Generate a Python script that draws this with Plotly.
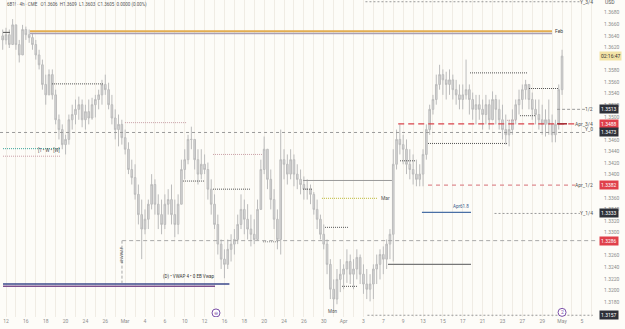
import plotly.graph_objects as go

# ---------------- data ----------------
tick_labels = ["12", "16", "18", "20", "24", "26", "Mar", "4", "6", "10", "12", "16", "18", "20",
               "24", "26", "30", "Apr", "3", "7", "9", "13", "15", "17", "21", "23", "27", "29", "May", "5"]

highs = [1.3651, 1.3654, 1.3651, 1.3669, 1.3659, 1.3633, 1.3659, 1.3656, 1.3651, 1.3645,
         1.3633, 1.3616, 1.3599, 1.3573, 1.3582, 1.3582, 1.3547, 1.3504, 1.3487, 1.3469,
         1.3504, 1.3521, 1.3530, 1.3535, 1.3530, 1.3521, 1.3530, 1.3533, 1.3538, 1.3547,
         1.3564, 1.3573, 1.3559, 1.3538, 1.3513, 1.3504, 1.3495, 1.3478, 1.3456, 1.3426,
         1.3418, 1.3383, 1.3357, 1.3340, 1.3357, 1.3401, 1.3392, 1.3366, 1.3357, 1.3366,
         1.3375, 1.3383, 1.3357, 1.3366, 1.3426, 1.3444, 1.3469, 1.3483, 1.3461, 1.3444,
         1.3444, 1.3435, 1.3421, 1.3392, 1.3366, 1.3331, 1.3288, 1.3271, 1.3288, 1.3297,
         1.3306, 1.3331, 1.3366, 1.3357, 1.3349, 1.3331, 1.3323, 1.3357, 1.3426, 1.3466,
         1.3444, 1.3409, 1.3375, 1.3340, 1.3478, 1.3444, 1.3435, 1.3444, 1.3435, 1.3418,
         1.3409, 1.3397, 1.3392, 1.3383, 1.3370, 1.3357, 1.3331, 1.3314, 1.3288, 1.3254,
         1.3219, 1.3237, 1.3254, 1.3245, 1.3271, 1.3262, 1.3254, 1.3271, 1.3262, 1.3245,
         1.3237, 1.3228, 1.3245, 1.3262, 1.3271, 1.3276, 1.3288, 1.3306, 1.3444, 1.3478,
         1.3487, 1.3469, 1.3461, 1.3444, 1.3435, 1.3426, 1.3418, 1.3444, 1.3487, 1.3521,
         1.3538, 1.3573, 1.3590, 1.3582, 1.3578, 1.3582, 1.3573, 1.3564, 1.3556, 1.3556,
         1.3599, 1.3556, 1.3542, 1.3538, 1.3538, 1.3530, 1.3538, 1.3530, 1.3544, 1.3538,
         1.3530, 1.3521, 1.3504, 1.3495, 1.3513, 1.3530, 1.3547, 1.3556, 1.3564, 1.3556,
         1.3542, 1.3530, 1.3530, 1.3521, 1.3513, 1.3530, 1.3504, 1.3495, 1.3556, 1.3616]

lows = [1.3616, 1.3625, 1.3619, 1.3625, 1.3616, 1.3594, 1.3607, 1.3633, 1.3628, 1.3616,
        1.3599, 1.3582, 1.3547, 1.3521, 1.3538, 1.3530, 1.3487, 1.3461, 1.3444, 1.3435,
        1.3452, 1.3478, 1.3487, 1.3495, 1.3482, 1.3478, 1.3487, 1.3495, 1.3499, 1.3513,
        1.3521, 1.3538, 1.3513, 1.3487, 1.3461, 1.3449, 1.3452, 1.3435, 1.3401, 1.3383,
        1.3357, 1.3314, 1.3254, 1.3297, 1.3306, 1.3340, 1.3331, 1.3306, 1.3297, 1.3306,
        1.3331, 1.3314, 1.3292, 1.3297, 1.3349, 1.3392, 1.3418, 1.3444, 1.3409, 1.3383,
        1.3392, 1.3401, 1.3357, 1.3331, 1.3306, 1.3262, 1.3237, 1.3221, 1.3237, 1.3250,
        1.3262, 1.3280, 1.3306, 1.3297, 1.3288, 1.3276, 1.3280, 1.3288, 1.3340, 1.3401,
        1.3375, 1.3340, 1.3306, 1.3271, 1.3262, 1.3392, 1.3383, 1.3392, 1.3380, 1.3375,
        1.3366, 1.3357, 1.3357, 1.3349, 1.3331, 1.3306, 1.3288, 1.3271, 1.3228, 1.3185,
        1.3163, 1.3176, 1.3197, 1.3202, 1.3213, 1.3211, 1.3202, 1.3219, 1.3211, 1.3194,
        1.3185, 1.3181, 1.3185, 1.3211, 1.3219, 1.3228, 1.3237, 1.3254, 1.3250, 1.3409,
        1.3435, 1.3418, 1.3401, 1.3392, 1.3383, 1.3380, 1.3380, 1.3380, 1.3426, 1.3469,
        1.3504, 1.3521, 1.3547, 1.3538, 1.3530, 1.3538, 1.3530, 1.3521, 1.3513, 1.3513,
        1.3530, 1.3504, 1.3495, 1.3487, 1.3495, 1.3478, 1.3487, 1.3478, 1.3495, 1.3487,
        1.3478, 1.3461, 1.3452, 1.3449, 1.3469, 1.3487, 1.3504, 1.3513, 1.3530, 1.3513,
        1.3495, 1.3487, 1.3478, 1.3469, 1.3466, 1.3469, 1.3456, 1.3456, 1.3478, 1.3538]

closes = [1.3633, 1.3642, 1.3625, 1.3659, 1.3625, 1.3607, 1.3651, 1.3642, 1.3637, 1.3625,
          1.3607, 1.3590, 1.3556, 1.3538, 1.3573, 1.3538, 1.3495, 1.3478, 1.3452, 1.3461,
          1.3495, 1.3504, 1.3513, 1.3521, 1.3495, 1.3509, 1.3498, 1.3521, 1.3530, 1.3538,
          1.3556, 1.3547, 1.3521, 1.3498, 1.3478, 1.3487, 1.3464, 1.3444, 1.3409, 1.3395,
          1.3366, 1.3331, 1.3306, 1.3323, 1.3349, 1.3383, 1.3349, 1.3331, 1.3314, 1.3349,
          1.3357, 1.3331, 1.3314, 1.3349, 1.3409, 1.3426, 1.3461, 1.3461, 1.3426, 1.3401,
          1.3418, 1.3409, 1.3375, 1.3349, 1.3314, 1.3280, 1.3254, 1.3245, 1.3271, 1.3280,
          1.3288, 1.3314, 1.3340, 1.3323, 1.3306, 1.3297, 1.3288, 1.3340, 1.3409, 1.3444,
          1.3392, 1.3357, 1.3323, 1.3288, 1.3426, 1.3418, 1.3401, 1.3426, 1.3401, 1.3392,
          1.3383, 1.3375, 1.3375, 1.3366, 1.3340, 1.3323, 1.3297, 1.3280, 1.3245, 1.3202,
          1.3185, 1.3219, 1.3228, 1.3237, 1.3250, 1.3228, 1.3237, 1.3257, 1.3228, 1.3211,
          1.3202, 1.3211, 1.3237, 1.3245, 1.3262, 1.3254, 1.3280, 1.3297, 1.3418, 1.3461,
          1.3452, 1.3444, 1.3418, 1.3409, 1.3401, 1.3392, 1.3401, 1.3435, 1.3478, 1.3513,
          1.3530, 1.3556, 1.3573, 1.3564, 1.3556, 1.3564, 1.3547, 1.3538, 1.3530, 1.3538,
          1.3547, 1.3530, 1.3513, 1.3521, 1.3513, 1.3504, 1.3521, 1.3495, 1.3530, 1.3513,
          1.3495, 1.3478, 1.3469, 1.3478, 1.3495, 1.3521, 1.3530, 1.3547, 1.3556, 1.3530,
          1.3513, 1.3504, 1.3495, 1.3487, 1.3495, 1.3487, 1.3469, 1.3487, 1.3547, 1.3605]

first_open = 1.3640

# key levels drawn on the right side
level_names = ["Y_3/4", "Feb", "1/2", "Apr_3/4", "Y_0", "Apr_1/2", "Y_1/4"]
level_prices = [1.3700, 1.3648, 1.3513, 1.3488, 1.3473, 1.3382, 1.3333]

badge_values = [1.3513, 1.3488, 1.3473, 1.3382, 1.3333, 1.3286, 1.3157]
badge_kinds = ["dark", "red", "dark", "red", "dark", "red", "dark"]

price_ticks_hidden = [1.3600, 1.3480, 1.3380, 1.3280, 1.3160]

countdown_text = "02:16:47"
last_price = 1.3605
header_text = "6B1! · 4h · CME   O1.3606  H1.3609  L1.3603  C1.3605  0.0000 (0.00%)"

# ---------------- build ----------------
bars_per_day = 3
start_day = -0.5
n = len(closes)
xs = [start_day + (i + 0.5) / bars_per_day for i in range(n)]
opens = [first_open] + closes[:-1]
hi = [max(h, o, c) for h, o, c in zip(highs, opens, closes)]
lo = [min(l, o, c) for l, o, c in zip(lows, opens, closes)]

XMIN, XMAX = -0.604, 59.52
YMIN, YMAX = 1.3154, 1.3702

fig = go.Figure()
fig.add_trace(go.Candlestick(
    x=xs, open=opens, high=hi, low=lo, close=closes,
    increasing=dict(line=dict(color="#bcbcbc", width=1), fillcolor="#d6d6d6"),
    decreasing=dict(line=dict(color="#bcbcbc", width=1), fillcolor="#d6d6d6"),
    whiskerwidth=0, showlegend=False, hoverinfo="skip"))

tickvals = list(range(0, 60))
ticktext = []
for d in tickvals:
    ticktext.append(tick_labels[d // 2] if d % 2 == 0 and d // 2 < len(tick_labels) else "")

ytickvals = []
v = 1.3160
while v < YMAX:
    if all(abs(v - h) > 1e-6 for h in price_ticks_hidden):
        ytickvals.append(round(v, 4))
    v += 0.002

FONT = "Roboto"
GREY = "#8c8c8c"


def hline(x0, x1, y, color, width=1, dash="solid"):
    fig.add_shape(type="line", xref="x", yref="y", x0=x0, x1=x1, y0=y, y1=y,
                  line=dict(color=color, width=width, dash=dash), layer="above")


def text(x, y, s, size=5, color="#555", xanchor="left", yanchor="middle", xref="x", **kw):
    fig.add_annotation(x=x, y=y, xref=xref, yref="y", text=s, showarrow=False,
                       xanchor=xanchor, yanchor=yanchor,
                       font=dict(family=FONT, size=size, color=color), **kw)


# Feb band
hline(2.42, 54.99, level_prices[1], "#e3ad4f", 1.8)
hline(2.42, 54.99, level_prices[1] - 0.0004, "#a99fb4", 1.4)
hline(-0.30, 0.40, level_prices[1] - 0.0002, "#555555", 1)
text(55.05, level_prices[1] + 0.0001, "Feb", 5, "#444")

# right-side labelled levels
hline(36.2, 57.8, level_prices[0] - 0.0001, "#9a9a9a", 1, "2px,2px")
text(59.35, level_prices[0] - 0.0001, "Y_3/4", 5, "#555", xanchor="right")
hline(55.5, 58.3, level_prices[2], "#9a9a9a", 1, "3px,2px")
text(59.35, level_prices[2], "1/2", 5, "#555", xanchor="right")
hline(39.5, 57.5, level_prices[3], "#d9434b", 1.2, "6px,4px")
hline(55.5, 56.5, level_prices[3], "#a8323a", 1.6)
text(59.35, level_prices[3], "Apr_3/4", 5, "#555", xanchor="right")
hline(-0.6, 58.3, level_prices[4], "#9a9a9a", 1, "3px,3px")
text(59.35, level_prices[4] + 0.00055, "Y_0", 5, "#555", xanchor="right")
hline(42.5, 57.3, level_prices[5], "#de8a8f", 1.2, "4px,4px")
text(59.35, level_prices[5], "Apr_1/2", 5, "#555", xanchor="right")
hline(49.2, 57.8, level_prices[6], "#9a9a9a", 1, "2px,2px")
text(59.35, level_prices[6], "Y_1/4", 5, "#555", xanchor="right")

# other levels
hline(11.7, 59.52, 1.3286, "#a8a8a8", 1, "4px,3px")
fig.add_shape(type="line", xref="x", yref="y", x0=11.68, x1=11.68, y0=1.3286, y1=1.3213,
              line=dict(color="#a8a8a8", width=1, dash="3px,2px"))
text(11.2, 1.3262, "ANVWAP", 4, "#666", textangle=-90)
hline(36.4, 59.1, 1.3157, "#9a9a9a", 1, "2px,2px")

# VWAP lines bottom-left
hline(-0.30, 22.5, 1.3211, "#3b4a8c", 1.5)
hline(-0.30, 21.05, 1.3207, "#7d4f8e", 1.5)
text(15.6, 1.3214, "(D) • VWAP 4 • 0 EB Vwap", 4.5, "#333", yanchor="bottom")

# teal / pink left dotted
hline(-0.30, 5.44, 1.3445, "#3aa39a", 1, "1px,1px")
hline(-0.30, 5.44, 1.3432, "#c9a0a8", 1, "1px,1px")
text(3.0, 1.3443, "[1 • W • [W]", 4.5, "#444")

# dotted swing markers
DOT = "1px,1px"
hline(4.63, 9.77, 1.3557, "#555555", 1, DOT)
hline(11.98, 18.23, 1.3490, "#c9a0a8", 1, DOT)
hline(17.82, 20.04, 1.3389, "#555555", 1, DOT)
hline(20.85, 25.78, 1.3435, "#c9a0a8", 1, DOT)
hline(20.85, 24.57, 1.3375, "#555555", 1, DOT)
hline(29.91, 38.87, 1.3390, "#9a9a9a", 1)
hline(29.91, 30.82, 1.3375, "#555555", 1, DOT)
hline(31.82, 37.46, 1.3359, "#c9c65a", 1.2, DOT)
text(37.6, 1.3359, "Mar", 5, "#555")
hline(32.13, 34.44, 1.3309, "#555555", 1, DOT)
hline(39.68, 41.19, 1.3424, "#555555", 1, DOT)
hline(42.5, 50.55, 1.3454, "#555555", 1, DOT)
hline(46.73, 52.47, 1.3576, "#555555", 1, DOT)
hline(52.67, 55.59, 1.3549, "#555555", 1, DOT)
hline(51.76, 53.27, 1.3502, "#555555", 1, DOT)
hline(50.45, 51.46, 1.3494, "#c9a0a8", 1, DOT)
hline(25.88, 27.39, 1.3284, "#888888", 1, DOT)
hline(33.84, 35.35, 1.3207, "#555555", 1, DOT)
hline(41.89, 46.83, 1.3335, "#4a6fa5", 1.2)
text(46.8, 1.3338, "Apr61.8", 4.5, "#3a5a8a", xanchor="right", yanchor="bottom")
hline(38.47, 46.83, 1.3245, "#777777", 1.2)
text(32.9, 1.3163, "Mon", 4.5, "#555", xanchor="center")

# circle icons
for cx, cy, s in [(21.15, 1.3161, "⊖"), (56.0, 1.3162, "2")]:
    fig.add_shape(type="circle", xref="x", yref="y", xsizemode="pixel", ysizemode="pixel",
                  xanchor=cx, yanchor=cy, x0=-4, x1=4, y0=-4, y1=4,
                  line=dict(color="#7b4fa8", width=1), fillcolor="#ffffff", layer="above")
    fig.add_annotation(x=cx, y=cy, xref="x", yref="y", text=s, showarrow=False,
                       font=dict(family=FONT, size=5, color="#7b4fa8"))

# header
fig.add_annotation(x=0.008, y=1.3695, xref="paper", yref="y", text=header_text, showarrow=False,
                   xanchor="left", yanchor="middle", font=dict(family=FONT, size=4.5, color="#555"))

# right-axis badges
colors = {"dark": "#2e3139", "red": "#e0404b"}
for v, k in zip(badge_values, badge_kinds):
    fig.add_annotation(x=1.0, y=v, xref="paper", yref="y", text=f"{v:.4f}", showarrow=False,
                       xanchor="left", yanchor="middle", xshift=2,
                       font=dict(family=FONT, size=5, color="white"),
                       bgcolor=colors[k], borderpad=1)
fig.add_annotation(x=1.0, y=last_price, xref="paper", yref="y", text=countdown_text, showarrow=False,
                   xanchor="left", yanchor="middle", xshift=2,
                   font=dict(family=FONT, size=5, color="#333"),
                   bgcolor="#f3e3a6", borderpad=1)
fig.add_annotation(x=1.0, y=1.3698, xref="paper", yref="y", text="USD", showarrow=False,
                   xanchor="left", yanchor="middle", xshift=6,
                   font=dict(family=FONT, size=5, color="#555"))

fig.update_layout(
    width=625, height=329,
    margin=dict(l=0, r=28, t=0, b=12),
    paper_bgcolor="#fdfcf8", plot_bgcolor="#fdfcf8",
    showlegend=False,
    xaxis=dict(range=[XMIN, XMAX], tickvals=tickvals, ticktext=ticktext,
               showgrid=True, gridcolor="#f0ece4", gridwidth=1, zeroline=False,
               rangeslider=dict(visible=False), ticks="", showline=False,
               tickfont=dict(family=FONT, size=5, color=GREY), fixedrange=True),
    yaxis=dict(range=[YMIN, YMAX], side="right", tickvals=ytickvals, tickformat=".4f",
               showgrid=False, zeroline=False, ticks="", showline=False,
               tickfont=dict(family=FONT, size=5, color=GREY), ticklabelstandoff=6),
)

fig.write_html("out.html")
